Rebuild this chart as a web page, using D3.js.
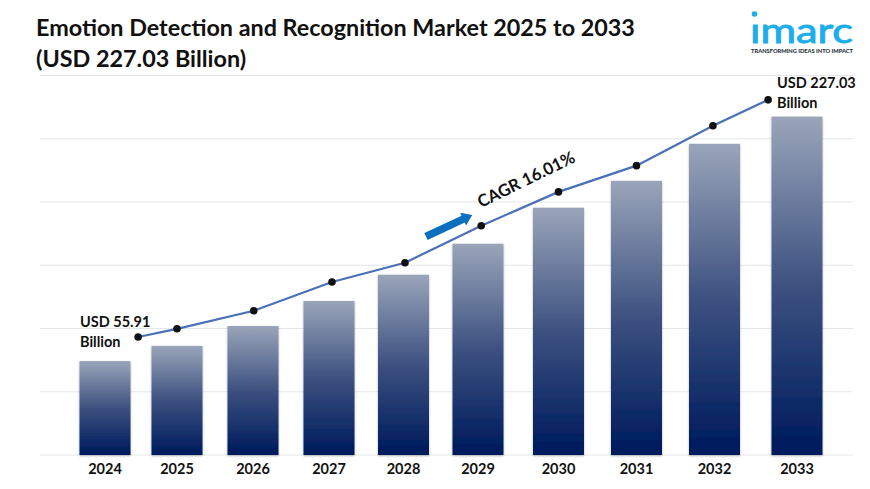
<!DOCTYPE html>
<html>
<head>
<meta charset="utf-8">
<script src="https://cdn.jsdelivr.net/npm/d3@7"></script>
<style>
  html, body { margin: 0; padding: 0; background: #fff; }
  text { font-family: Lato, "Open Sans", sans-serif; }
</style>
</head>
<body>
<div id="chart"></div>
<script>
// values
var years = [2024, 2025, 2026, 2027, 2028, 2029, 2030, 2031, 2032, 2033];
var barValues = [29.7, 34.5, 40.8, 48.7, 57, 66.8, 78.2, 86.7, 98.4, 107];
var lineYears = [2024.46, 2025, 2026.01, 2027.04, 2028.02, 2029.04, 2030, 2031, 2031.98, 2032.65];
var lineValues = [37.3, 39.9, 45.6, 54.7, 60.8, 72.5, 83.2, 91.5, 104.1, 112.3];
var gridTicks = [0, 20, 40, 60, 80, 100, 120];
var titleLines = ["Emotion Detection and Recognition Market 2025 to 2033", "(USD 227.03 Billion)"];
var startLabel = ["USD 55.91", "Billion"];
var endLabel = ["USD 227.03", "Billion"];
var cagrLabel = "CAGR 16.01%";

var width = 870, height = 489;

var svg = d3.select("#chart").append("svg")
  .attr("width", width)
  .attr("height", height)
  .style("display", "block");

// bars are not evenly spaced in the picture, so x is piecewise
var x = d3.scaleLinear()
  .domain([2024, 2025, 2027, 2029, 2030, 2032, 2033])
  .range([105, 177, 329, 478, 558.5, 714.5, 797]);

var y = d3.scaleLinear()
  .domain([0, 120])
  .range([455, 75.5]);

var barW = 51;

var defs = svg.append("defs");
var grad = defs.append("linearGradient")
  .attr("id", "barFill")
  .attr("x1", 0).attr("y1", 0).attr("x2", 0).attr("y2", 1);
grad.append("stop").attr("offset", "0%").attr("stop-color", "#9aa5ba");
grad.append("stop").attr("offset", "50%").attr("stop-color", "#3d5180");
grad.append("stop").attr("offset", "95%").attr("stop-color", "#021f5f");
grad.append("stop").attr("offset", "100%").attr("stop-color", "#021f5f");

var blur = defs.append("filter").attr("id", "barShadow")
  .attr("x", "-10%").attr("y", "-5%").attr("width", "120%").attr("height", "110%");
blur.append("feDropShadow")
  .attr("dx", 0).attr("dy", 1).attr("stdDeviation", 1.2)
  .attr("flood-color", "#000").attr("flood-opacity", 0.3);

// grid
svg.selectAll("line.grid")
  .data(gridTicks)
  .enter().append("line")
  .attr("class", "grid")
  .attr("x1", 40)
  .attr("x2", 853)
  .attr("y1", function(d) { return y(d); })
  .attr("y2", function(d) { return y(d); })
  .style("stroke", "#e4e6ea")
  .style("stroke-width", 1);

// bars
svg.selectAll("rect.bar")
  .data(years)
  .enter().append("rect")
  .attr("class", "bar")
  .attr("x", function(d) { return x(d) - barW / 2; })
  .attr("width", barW)
  .attr("y", function(d, i) { return y(barValues[i]); })
  .attr("height", function(d, i) { return y(0) - y(barValues[i]); })
  .style("fill", "url(#barFill)")
  .style("filter", "url(#barShadow)");

// year labels
svg.selectAll("text.year")
  .data(years)
  .enter().append("text")
  .attr("class", "year")
  .attr("x", function(d) { return x(d); })
  .attr("y", 474)
  .attr("text-anchor", "middle")
  .style("font-size", "14.5px")
  .style("font-weight", 700)
  .style("fill", "#111")
  .text(function(d) { return d; });

// trend line
var line = d3.line()
  .x(function(d, i) { return x(lineYears[i]); })
  .y(function(d) { return y(d); });

svg.append("path")
  .datum(lineValues)
  .attr("d", line)
  .style("fill", "none")
  .style("stroke", "#4a70b8")
  .style("stroke-width", 2.2);

svg.selectAll("circle.pt")
  .data(lineValues)
  .enter().append("circle")
  .attr("class", "pt")
  .attr("cx", function(d, i) { return x(lineYears[i]); })
  .attr("cy", function(d) { return y(d); })
  .attr("r", 3.8)
  .style("fill", "#111");

// title
svg.selectAll("text.title")
  .data(titleLines)
  .enter().append("text")
  .attr("class", "title")
  .attr("x", 36)
  .attr("y", function(d, i) { return 36 + i * 30.5; })
  .style("font-size", "23.35px")
  .style("font-weight", 700)
  .style("fill", "#111")
  .text(function(d) { return d; });

// value callouts
function callout(lines, lx, ly) {
  svg.selectAll(null)
    .data(lines)
    .enter().append("text")
    .attr("x", lx)
    .attr("y", function(d, i) { return ly + i * 20; })
    .style("font-size", "14.5px")
    .style("font-weight", 700)
    .style("fill", "#111")
    .text(function(d) { return d; });
}
callout(startLabel, 80, 327);
callout(endLabel, 777, 88);

// cagr text and arrow
svg.append("text")
  .attr("transform", "translate(481,208) rotate(-26)")
  .style("font-size", "16.8px")
  .style("font-weight", 700)
  .style("fill", "#111")
  .text(cagrLabel);

svg.append("path")
  .attr("transform", "translate(426,236.5) rotate(-25)")
  .attr("d", "M0,-3.8 L41,-3.8 L41,-7 L51,0 L41,7 L41,3.8 L0,3.8 Z")
  .style("fill", "#0a70bd");

// logo
var logo = svg.append("g");
logo.append("circle")
  .attr("cx", 754.5).attr("cy", 14).attr("r", 2.8)
  .style("fill", "#1caeea");
logo.append("text")
  .attr("x", 750)
  .attr("y", 43)
  .attr("textLength", 103)
  .attr("lengthAdjust", "spacingAndGlyphs")
  .style("font-size", "35px")
  .style("font-weight", 400)
  .style("fill", "#1caeea")
  .style("stroke", "#1caeea")
  .style("stroke-width", 0.9)
  .text("\u0131marc");
logo.append("text")
  .attr("x", 751)
  .attr("y", 53)
  .attr("textLength", 102)
  .attr("lengthAdjust", "spacingAndGlyphs")
  .style("font-size", "5.8px")
  .style("font-weight", 900)
  .style("fill", "#2a3138")
  .text("TRANSFORMING IDEAS INTO IMPACT");
</script>
</body>
</html>
